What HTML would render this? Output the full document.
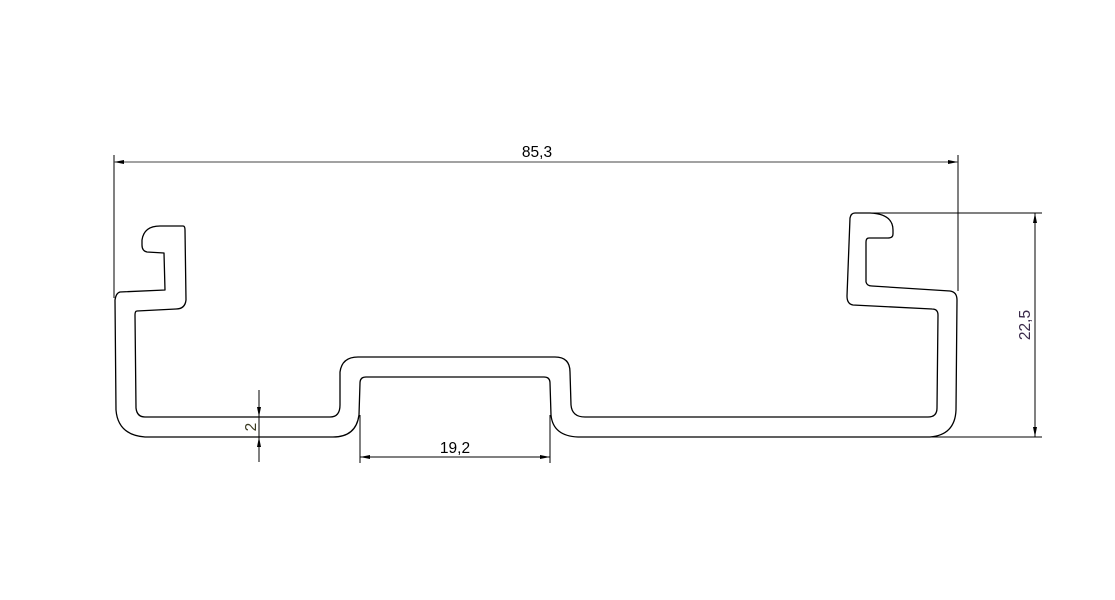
<!DOCTYPE html>
<html><head><style>html,body{margin:0;padding:0;background:#fff}svg{display:block}</style></head>
<body>
<svg width="1115" height="600" viewBox="0 0 1115 600" xmlns="http://www.w3.org/2000/svg">
<rect width="1115" height="600" fill="#fff"/>
<g fill="none" stroke="#000" stroke-width="1.3" stroke-linejoin="round">
<path d="M120,292 L165,290 L164,253 L147,252 Q142,251 142,245 L142,240 Q144,226 160,226 L183,226 Q185,226 185,230 L186,300 Q185,309 176,309 L137,311 Q135,311 135,315 L136,408 Q137,417 145,417 L330,417 Q340,417 340,405 L340,372 Q342,357 358,357 L555,357 Q570,357 570,372 L571,405 Q572,417 585,417 L928,417 Q937,417 937,408 L938,315 Q938,309 932,309 L853,305 Q847,304 847,296 L850,218 Q851,213 855,213 L870,213 Q893,214 893,230 L893,234 Q893,238 888,238 L869,238 Q866,238 866,242 L866,282 Q867,286 872,286 L950,291 Q957,292 957,300 L956,410 Q955,435 930,437 L578,437 Q553,436 551,415 L550,383 Q550,377 544,377 L366,377 Q360,377 360,383 L359,415 Q356,437 333,437 L145,437 Q118,435 116,410 L115,300 Q116,293 120,292 Z"/>
</g>
<g stroke="#000" stroke-width="1">
<line x1="114" y1="155" x2="114" y2="298"/>
<line x1="958" y1="155" x2="958" y2="291"/>
<line x1="114" y1="162" x2="958" y2="162" stroke="#444"/>
<line x1="870" y1="213" x2="1042" y2="213"/>
<line x1="930" y1="437" x2="1042" y2="437"/>
<line x1="1035" y1="213" x2="1035" y2="437"/>
<line x1="360" y1="415" x2="360" y2="463"/>
<line x1="550" y1="415" x2="550" y2="463"/>
<line x1="360" y1="457" x2="550" y2="457"/>
<line x1="259" y1="390" x2="259" y2="462"/>
</g>
<g fill="#000">
<polygon points="114,162 124,160 124,164"/>
<polygon points="958,162 948,160 948,164"/>
<polygon points="1035,213 1033,223 1037,223"/>
<polygon points="1035,437 1033,427 1037,427"/>
<polygon points="360,457 370,455 370,459"/>
<polygon points="550,457 540,455 540,459"/>
<polygon points="259,417 257,407 261,407"/>
<polygon points="259,437 257,447 261,447"/>
</g>
<g font-family="Liberation Sans, sans-serif" font-size="15.5" fill="#000" text-anchor="middle">
<text x="537" y="157">85,3</text>
<text x="455" y="453">19,2</text>
<text transform="translate(1030,325) rotate(-90)" fill="#3a2a4a">22,5</text>
<text transform="translate(256,427) rotate(-90)" fill="#3a3a20">2</text>
</g>
</svg>
</body></html>
